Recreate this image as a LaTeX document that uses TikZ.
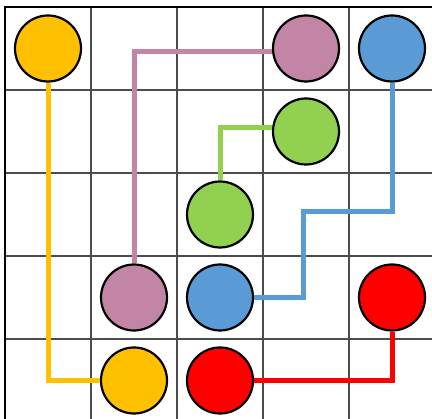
\documentclass[tikz,border=0pt]{standalone}
\usepackage{tikz}
\usetikzlibrary{calc}
\definecolor{flowyellow}{HTML}{FFC000}
\definecolor{flowpink}{HTML}{C285A5}
\definecolor{flowblue}{HTML}{5B9BD5}
\definecolor{flowgreen}{HTML}{92D050}
\definecolor{flowred}{HTML}{FF0000}
\begin{document}
\begin{tikzpicture}[x=1pt,y=-1pt,
  gridline/.style={draw=black!70,line width=1.1pt},
  frame/.style={draw=black,line width=2pt},
  dot/.style={circle,draw=black,line width=2.2pt,minimum size=66pt,inner sep=0pt},
  pipe/.style={line width=5pt}]
\useasboundingbox (0,0) rectangle (432,419);
% grid
\foreach \i in {1,...,4} \draw[gridline] ({5+86*\i},7) -- ({5+86*\i},422);
\foreach \j in {1,...,4} \draw[gridline] (5,{7+83*\j}) -- (434,{7+83*\j});
\draw[frame] (5,7) rectangle (434,422);
% end points
\node[dot,fill=flowyellow] (ya) at (48,48.5) {};
\node[dot,fill=flowyellow] (yb) at (134,380.5) {};
\node[dot,fill=flowpink] (pa) at (306,48.5) {};
\node[dot,fill=flowpink] (pb) at (134,297.5) {};
\node[dot,fill=flowblue] (ba) at (392,48.5) {};
\node[dot,fill=flowblue] (bb) at (220,297.5) {};
\node[dot,fill=flowgreen] (ga) at (306,131.5) {};
\node[dot,fill=flowgreen] (gb) at (220,214.5) {};
\node[dot,fill=flowred] (ra) at (392,297.5) {};
\node[dot,fill=flowred] (rb) at (220,380.5) {};
% pipes
\draw[pipe,flowyellow] (ya.south) -- (ya.south |- yb.west) -- (yb.west);
\draw[pipe,flowpink] (pb.north) -- ([yshift=-3pt]pb.north |- pa.west) -- ([yshift=-3pt]pa.west);
\coordinate (bturn) at (303,212);
\draw[pipe,flowblue] (ba.south) -- (ba.south |- bturn) -- (bturn) -- (bturn |- bb.east) -- (bb.east);
\draw[pipe,flowgreen] (gb.north) -- ([yshift=4pt]gb.north |- ga.west) -- ([yshift=4pt]ga.west);
\draw[pipe,flowred] (ra.south) -- (ra.south |- rb.east) -- (rb.east);
\end{tikzpicture}
\end{document}
